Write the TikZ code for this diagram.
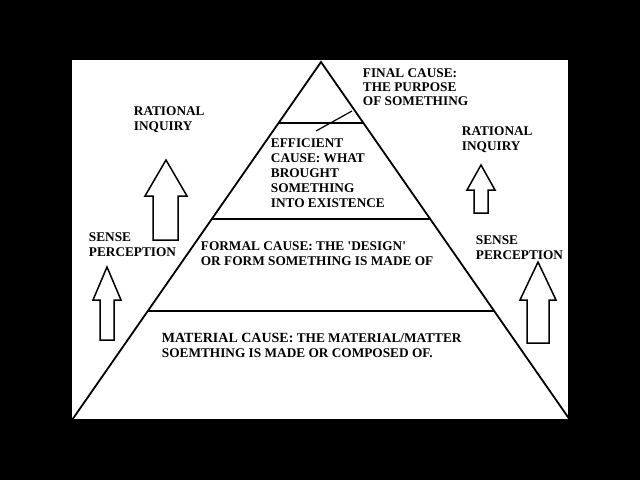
\documentclass[tikz,border=0pt]{standalone}
\usepackage{fontspec}
\setmainfont{Liberation Serif}
\begin{document}
\begin{tikzpicture}[x=1pt,y=-1pt,line width=1.8pt,
  lbl/.style={anchor=north west,align=left,inner sep=0pt,font=\fontsize{13.3}{15}\selectfont\bfseries}]
\fill[black] (0,0) rectangle (640,480);
\fill[white] (72,60) rectangle (568,420);
\useasboundingbox (0,0) rectangle (640,480);
\coordinate (apex) at (321,62);
\coordinate (bl) at (72,420);
\coordinate (br) at (570,420);
\draw[line join=miter] (apex) -- (br) -- (bl) -- cycle;
\draw (279,123) -- (363,123);
\draw (212,219) -- (430,219);
\draw (148,311) -- (494,311);
\draw[line width=1.2pt] (316,131) -- (352,111);
% arrows
\draw[line width=1.5pt] (166,160) -- (187,196) -- (178,196) -- (178,240) -- (153,240) -- (153,196) -- (145,196) -- cycle;
\draw[line width=1.5pt] (107,267) -- (121,300) -- (114,300) -- (114,340) -- (100,340) -- (100,300) -- (93,300) -- cycle;
\draw[line width=1.5pt] (481,165) -- (495,190) -- (488,190) -- (488,213) -- (474,213) -- (474,190) -- (467,190) -- cycle;
\draw[line width=1.5pt] (538,262) -- (556,300) -- (549,300) -- (549,343) -- (527,343) -- (527,300) -- (520,300) -- cycle;
% labels
\node[lbl,font=\fontsize{13.3}{14}\selectfont\bfseries] (fin) at (362,68) {FINAL CAUSE:\\THE PURPOSE\\OF SOMETHING};
\node[lbl] (ri1) at (133,106) {RATIONAL\\INQUIRY};
\node[lbl] (ri2) at (461,126) {RATIONAL\\INQUIRY};
\node[lbl] (eff) at (270,138) {EFFICIENT\\CAUSE: WHAT\\BROUGHT\\SOMETHING\\INTO EXISTENCE};
\node[lbl] (sp1) at (88,232) {SENSE\\PERCEPTION};
\node[lbl] (sp2) at (475,235) {SENSE\\PERCEPTION};
\node[lbl] (frm) at (200,241) {FORMAL CAUSE: THE \textquotesingle DESIGN\textquotesingle\\OR FORM SOMETHING IS MADE OF};
\node[lbl] (mat) at (161,332) {{\fontsize{14}{15}\selectfont MATERIAL CAUSE:} THE MATERIAL/MATTER\\SOEMTHING IS MADE OR COMPOSED OF.};
\end{tikzpicture}
\end{document}
